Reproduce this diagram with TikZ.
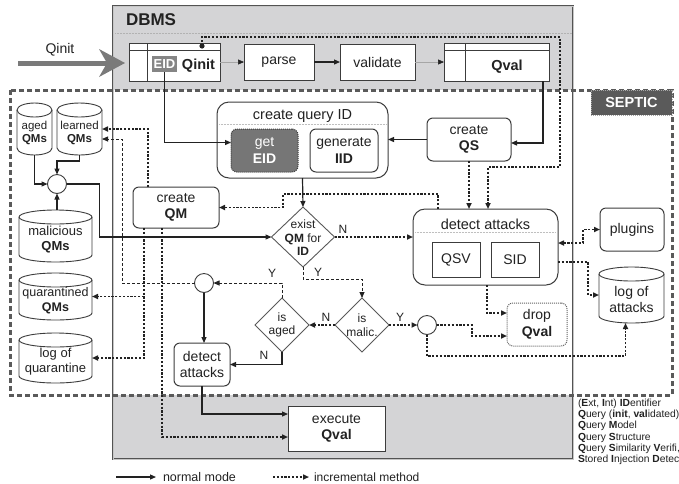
\documentclass[tikz,border=0pt]{standalone}
\usepackage{fontspec}
\setmainfont{Liberation Sans}
\usetikzlibrary{arrows.meta,shapes.geometric,calc}
\definecolor{dbg}{HTML}{D4D4D6}
\definecolor{dk}{HTML}{3C3C3C}
\definecolor{ln}{HTML}{222222}
\definecolor{sep}{HTML}{5A5A5A}
\definecolor{eidg}{HTML}{858585}
\definecolor{geteidc}{HTML}{767676}
\definecolor{bigarr}{HTML}{7A7A7A}
\newcommand\fs[2]{\fontsize{#1}{#2}\selectfont}
\newcommand\cyl[7]{%
  \pgfmathsetmacro\cxA{(#2+#4)/2}%
  \pgfmathsetmacro\rxA{(#4-#2)/2}%
  \pgfmathsetmacro\ytA{#3+7}%
  \pgfmathsetmacro\ybA{#5-7}%
  \pgfmathsetmacro\cyA{(#3+#5)/2}%
  \pgfmathsetmacro\tyA{(#3+#5)/2+4}%
  \pgfmathsetmacro\wA{#4-#2}%
  \pgfmathsetmacro\hA{#5-#3}%
  \path[draw=dk, line width=0.9pt, fill=white] (#2,\ytA) -- (#2,\ybA)
     arc[start angle=180, end angle=0, x radius=\rxA, y radius=7] -- (#4,\ytA)
     arc[start angle=0, end angle=-180, x radius=\rxA, y radius=7] -- cycle;
  \draw[dk, line width=0.9pt] (#2,\ytA) arc[start angle=180, end angle=0, x radius=\rxA, y radius=7];
  \node[minimum width=\wA, minimum height=\hA] (#1) at (\cxA,\cyA) {};
  \node[align=center, font=#6] at (\cxA,\tyA) {#7};
}
\begin{document}
\begin{tikzpicture}[x=1pt,y=-1pt,
  every node/.style={inner sep=0pt, outer sep=0pt, text=ln},
  proc/.style={draw=dk, line width=1pt, fill=white, rounded corners=6pt, align=center, font=\fs{14}{16.5}},
  sq/.style={draw=dk, line width=1pt, fill=white, align=center, font=\fs{14}{16.5}},
  dia/.style={diamond, draw=dk!85, line width=0.9pt, fill=white},
  diatxt/.style={align=center, font=\fs{12}{13.5}},
  circ/.style={circle, draw=dk, line width=0.9pt, fill=white, minimum size=19pt},
  lbl/.style={font=\fs{12}{12}},
  nor/.style={draw=ln, line width=1.2pt, -{Triangle[length=6pt,width=5pt]}},
  garrow/.style={draw=gray!70, line width=0.6pt, -{Triangle[length=6pt,width=5pt,color=ln]}},
  inc/.style={draw=ln, line width=1.6pt, dash pattern=on 2.2pt off 1.6pt, -{Triangle[length=6pt,width=5pt]}},
  tdash/.style={draw=ln, line width=0.8pt, dash pattern=on 3pt off 2pt, -{Triangle[length=6pt,width=5pt]}},
]
\useasboundingbox (0,0) rectangle (679,483);
\fill[white] (0,0) rectangle (679,483);
% containers
\fill[dbg] (113,6) rectangle (573,459);
\fill[white] (10,90) rectangle (672,395);
\draw[draw=gray!65!black, line width=0.7pt, double=gray!45, double distance=1pt] (113,6) rectangle (573,459);
\draw[sep, line width=3pt, dash pattern=on 5pt off 3pt] (10,90) rectangle (672,395);
\node[fill=sep, draw=gray!70, densely dotted, line width=1pt, minimum width=81, minimum height=25, anchor=north east, text=white, font=\bfseries\fs{14.5}{14.5}] (septic) at (672,90) {SEPTIC};
\node[anchor=west, font=\bfseries\fs{17}{17}] (dbms) at (126,20) {DBMS};
\draw[gray!60, line width=0.5pt, densely dotted] (115,33) -- (572,33);

% DBMS row
\node[sq, minimum width=91, minimum height=38, anchor=north west] (qinit) at (129,43) {};
\draw[dk, line width=1pt] ($(qinit.north west)+(0,7)$) -- ($(qinit.north east)+(0,7)$);
\draw[dk, line width=1pt] ($(qinit.north west)+(18,0)$) -- ($(qinit.south west)+(18,0)$);
\node[fill=eidg, text=white, font=\bfseries\fs{13}{13}, minimum width=25, minimum height=16] (eid) at (164.5,64) {EID};
\node[font=\bfseries\fs{14.5}{14.5}] (qinittxt) at (198.5,66) {Qinit};
\coordinate (dot) at (202,46);
\node[sq, minimum width=70, minimum height=36] (parse) at (279,62) {parse};
\node[sq, minimum width=75, minimum height=36] (validate) at (377.5,62) {validate};
\node[sq, minimum width=105, minimum height=38, anchor=north west] (qval) at (444,43) {};
\draw[dk, line width=1pt] ($(qval.north west)+(0,7)$) -- ($(qval.north east)+(0,7)$);
\draw[dk, line width=1pt] ($(qval.north west)+(21,0)$) -- ($(qval.south west)+(21,0)$);
\node[font=\bfseries\fs{14.5}{14.5}] (qvaltxt) at (507,67) {Qval};

\coordinate (qin) at (18,63);
\coordinate (qtip) at ($(qinit.west)+(-4,1)$);
\draw[draw=bigarr, line width=5pt] (qin) -- ($(qtip)+(-18,0)$);
\fill[bigarr] (qtip) -- ++(-26,-14) -- ++(8,14) -- ++(-8,14) -- cycle;
\node[font=\fs{14}{14}] (qinlbl) at (60,50) {Qinit};

% SEPTIC nodes
\node[proc, minimum width=171, minimum height=76, rounded corners=12pt] (cqid) at (302.5,140) {};
\node[font=\fs{14.5}{14.5}] (cqidt) at (302.5,116) {create query ID};
\draw[gray!50, densely dotted, line width=0.5pt] (219,124) -- (386,124);
\node[proc, fill=geteidc, draw=dk, densely dotted, text=white, minimum width=67, minimum height=43] (geteid) at (264.5,150.5) {get\\\textbf{EID}};
\node[proc, minimum width=68, minimum height=43] (geniid) at (344,150.5) {generate\\\textbf{IID}};
\node[proc, minimum width=84, minimum height=43] (createqs) at (469,139.5) {create\\\textbf{QS}};
\node[proc, minimum width=86, minimum height=41] (createqm) at (176,207.5) {create\\\textbf{QM}};
\node[dia, minimum width=63, minimum height=60] (exist) at (303,237) {};
\node[diatxt] at (303,238) {exist\\\textbf{QM} for\\\textbf{ID}};

\node[proc, minimum width=145, minimum height=76, rounded corners=12pt] (det1) at (485.5,247) {};
\node[font=\fs{14.5}{14.5}] (det1t) at (485.5,224) {detect attacks};
\draw[gray!50, densely dotted, line width=0.5pt] (415,232) -- (556,232);
\node[sq, minimum width=48, minimum height=35] (qsv) at (456,259.5) {QSV};
\node[sq, minimum width=48, minimum height=35] (sid) at (515,259.5) {SID};
\node[proc, minimum width=64, minimum height=43] (plugins) at (632,229.5) {plugins};
\cyl{logatt}{599}{267}{664}{323}{\fs{14}{16}}{log of\\attacks}
\node[proc, densely dotted, draw=dk!80, minimum width=60, minimum height=43] (drop) at (537,324.5) {drop\\\textbf{Qval}};

\node[dia, minimum width=54, minimum height=54] (isaged) at (282,325) {};
\node[diatxt] at (282,325) {is\\aged};
\node[dia, minimum width=54, minimum height=54] (ismalic) at (362,325) {};
\node[diatxt] at (362,325) {is\\malic.};
\node[circ] (c1) at (57,184) {};
\node[circ] (c2) at (204,283) {};
\node[circ] (c3) at (427,325) {};
\node[proc, minimum width=56, minimum height=43] (det2) at (202,364.5) {detect\\attacks};
\node[sq, minimum width=97, minimum height=45] (exec) at (336.5,428.5) {execute\\\textbf{Qval}};

\cyl{aged}{17}{103}{52}{155}{\fs{11.5}{13.5}}{aged\\\textbf{QMs}}
\cyl{learned}{57}{103}{102}{155}{\fs{11.5}{13.5}}{learned\\\textbf{QMs}}
\cyl{malicious}{19}{210}{92}{262}{\fs{13}{15}}{malicious\\\textbf{QMs}}
\cyl{quar}{19}{273}{92}{320}{\fs{12.5}{14.5}}{quarantined\\\textbf{QMs}}
\cyl{logq}{19}{333}{92}{383}{\fs{13}{15}}{log of\\quarantine}

% normal connectors
\draw[garrow] (qinit.east) -- (parse.west);
\draw[nor] (parse.east) -- (validate.west);
\draw[garrow] (validate.east) -- (qval.west);
\draw[nor] (aged.south) |- (c1.west);
\draw[nor] (learned.south) -- ++(0,6) -| (c1.north);
\draw[nor] (malicious.north -| c1.south) -- (c1.south);
\draw[nor] (c1.east) -- ++(33,0) |- (exist.west);
\draw[nor] (eid.south) |- ($(geteid.west)+(0,-8)$);
\draw[nor] ($(qval.south east)+(-6,0)$) |- ($(createqs.east)+(0,3.5)$);
\draw[nor] (createqs.west) -- (createqs.west -| cqid.east);
\draw[nor] (cqid.south) -- (exist.north);
\draw[nor] (isaged.south) |- (det2.east);
\node[lbl] at (264,355) {N};
\draw[nor] (c2.south) -- (c2.south |- det2.north);
\draw[nor] (det2.south) |- ($(exec.west)+(0,-14.5)$);

% incremental connectors
\fill[ln] (dot) circle (2.6);
\draw[inc] (dot) |- (560,37) |- ($(det1.north)+(2.5,-42)$) -- ($(det1.north)+(2.5,0)$);
\draw[inc] (createqs.south) -- (createqs.south |- det1.north);
\draw[inc] ($(det1.north west)+(25,0)$) |- (283,194) |- (createqm.east);
\draw[inc] (exist.east) -- (exist.east -| det1.west);
\node[lbl] at (343,229) {N};
\draw[inc] ($(createqm.north west)+(15,0)$) |- (learned.east);
\draw[inc] ($(createqm.south west)+(29,0)$) |- ($(exec.west)+(0,8.5)$);
\coordinate (qmb) at ($(createqm.south west)+(11,0)$);
\draw[inc] (qmb) |- (logq.east);
\draw[inc] (qmb |- quar.east) -- (quar.east);
\draw[inc] (ismalic.west) -- (isaged.east);
\node[lbl] at (326,317) {N};
\draw[inc] (ismalic.east) -- (c3.west);
\node[lbl] at (400,317) {Y};
\draw[inc] (c3.east) -- ++(35.5,0) |- ($(drop.west)+(0,11.5)$);
\draw[inc] (c3.south) |- ($(logatt.south)+(-6,33)$) -- ($(logatt.south)+(-6,0)$);
\draw[inc] ($(det1.south)+(1.5,0)$) |- ($(drop.west)+(0,-11.5)$);
\draw[inc, {Triangle[length=6pt,width=5pt]}-{Triangle[length=6pt,width=5pt]}] ($(det1.east)+(0,-4)$) -- ++(25,0) |- (plugins.west);
\draw[inc] ($(det1.east)+(0,15)$) -- ++(30,0) |- (logatt.west);

% thin dashed
\draw[tdash] (exist.south) -- ++(0,12) -| (ismalic.north);
\node[lbl] at (318,272) {Y};
\draw[tdash] (isaged.north) |- (c2.east);
\node[lbl] at (272,273) {Y};
\draw[tdash] (c2.west) -- ++(-72.5,0) |- ($(learned.east)+(0,10)$);

% legends
\node[anchor=west, font=\fs{12.5}{12.5}] (legn) at (163,477) {normal mode};
\draw[nor] ($(legn.west)+(-47,0)$) -- ($(legn.west)+(-7,0)$);
\node[anchor=west, font=\fs{12}{12}] (legi) at (314,477) {incremental method};
\draw[inc] ($(legi.west)+(-41,0)$) -- ($(legi.west)+(-5,0)$);
\node[anchor=north west, align=left, font=\fs{10.3}{11.2}] (legend) at (578,399) {(\textbf{E}xt, \textbf{I}nt) \textbf{ID}entifier\\\textbf{Q}uery (\textbf{init}, \textbf{val}idated)\\\textbf{Q}uery \textbf{M}odel\\\textbf{Q}uery \textbf{S}tructure\\\textbf{Q}uery \textbf{S}imilarity \textbf{V}erifi,\\\textbf{S}tored \textbf{I}njection \textbf{D}etec};
\end{tikzpicture}
\end{document}
